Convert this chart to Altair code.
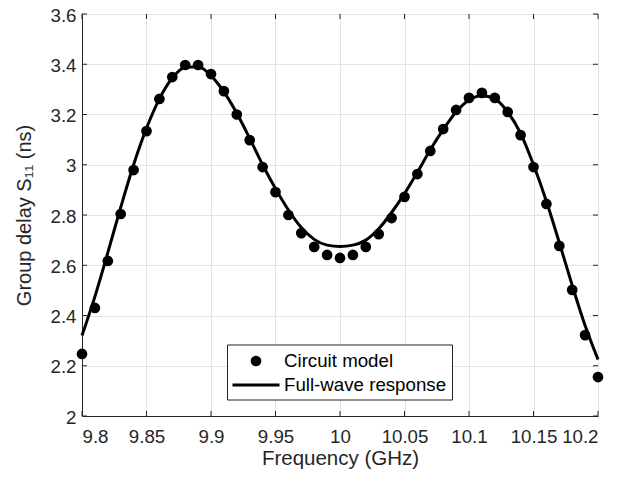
import altair as alt
import pandas as pd

freq = [9.80, 9.81, 9.82, 9.83, 9.84, 9.85, 9.86, 9.87, 9.88, 9.89,
        9.90, 9.91, 9.92, 9.93, 9.94, 9.95, 9.96, 9.97, 9.98, 9.99,
        10.00, 10.01, 10.02, 10.03, 10.04, 10.05, 10.06, 10.07, 10.08, 10.09,
        10.10, 10.11, 10.12, 10.13, 10.14, 10.15, 10.16, 10.17, 10.18, 10.19,
        10.20]

circuit_model = [2.247, 2.430, 2.617, 2.804, 2.979, 3.134, 3.262, 3.349, 3.397, 3.397,
                 3.361, 3.293, 3.200, 3.098, 2.991, 2.891, 2.800, 2.728, 2.673, 2.641,
                 2.629, 2.641, 2.673, 2.724, 2.788, 2.872, 2.963, 3.055, 3.142, 3.218,
                 3.266, 3.286, 3.266, 3.210, 3.118, 2.991, 2.844, 2.677, 2.502, 2.322,
                 2.155]

full_wave = [2.320, 2.475, 2.650, 2.830, 3.000, 3.145, 3.262, 3.345, 3.388, 3.390,
             3.355, 3.290, 3.205, 3.105, 3.000, 2.905, 2.820, 2.750, 2.703, 2.680,
             2.675, 2.680, 2.700, 2.745, 2.810, 2.885, 2.970, 3.060, 3.140, 3.210,
             3.258, 3.275, 3.262, 3.210, 3.125, 3.000, 2.855, 2.690, 2.520, 2.360,
             2.225]

x_ticks = [9.8, 9.85, 9.9, 9.95, 10.0, 10.05, 10.1, 10.15, 10.2]
y_ticks = [2.0, 2.2, 2.4, 2.6, 2.8, 3.0, 3.2, 3.4, 3.6]
legend_labels = ["Circuit model", "Full-wave response"]

W, H = 516, 402
DARK = "#262626"
FONT = "Liberation Sans"

df = pd.DataFrame({"f": freq, "circuit": circuit_model, "full": full_wave})

xscale = alt.Scale(domain=[9.8, 10.2], nice=False, zero=False)
yscale = alt.Scale(domain=[2.0, 3.6], nice=False, zero=False)

x_axis = alt.Axis(values=x_ticks, format="~g", title="Frequency (GHz)", tickSize=0,
                  labelPadding=11, titlePadding=3, grid=True, titleFontSize=20.5)
y_axis = alt.Axis(values=y_ticks, format="~g", title="Group delay S₁₁ (ns)", tickSize=0,
                  labelPadding=6, labelOffset=1, titlePadding=16, grid=True,
                  titleFontSize=20)

base = alt.Chart(df)

line = base.mark_line(color="black", strokeWidth=3, interpolate="monotone").encode(
    x=alt.X("f:Q", scale=xscale, axis=x_axis),
    y=alt.Y("full:Q", scale=yscale, axis=y_axis),
)

points = base.mark_circle(color="black", size=115, opacity=1).encode(
    x=alt.X("f:Q", scale=xscale),
    y=alt.Y("circuit:Q", scale=yscale),
)

# inward ticks (MATLAB style) on all four sides
xt = pd.DataFrame({"t": x_ticks})
yt = pd.DataFrame({"t": y_ticks})
tick_style = dict(color=DARK, strokeWidth=1)
xt_bottom = alt.Chart(xt).mark_rule(**tick_style).encode(
    x=alt.X("t:Q", scale=xscale), y=alt.value(H), y2=alt.value(H - 5))
xt_top = alt.Chart(xt).mark_rule(**tick_style).encode(
    x=alt.X("t:Q", scale=xscale), y=alt.value(0), y2=alt.value(5))
yt_left = alt.Chart(yt).mark_rule(**tick_style).encode(
    y=alt.Y("t:Q", scale=yscale), x=alt.value(0), x2=alt.value(5))
yt_right = alt.Chart(yt).mark_rule(**tick_style).encode(
    y=alt.Y("t:Q", scale=yscale), x=alt.value(W), x2=alt.value(W - 5))

# legend box
one = pd.DataFrame({"k": [0]})
leg_box = alt.Chart(one).mark_rect(fill="white", stroke=DARK, strokeWidth=1).encode(
    x=alt.value(145.5), x2=alt.value(370.5), y=alt.value(331), y2=alt.value(386))
leg_dot = alt.Chart(one).mark_circle(color="black", size=115, opacity=1).encode(
    x=alt.value(174), y=alt.value(347))
leg_line = alt.Chart(one).mark_rule(color="black", strokeWidth=3).encode(
    x=alt.value(150.5), x2=alt.value(197.5), y=alt.value(371))
leg_text1 = alt.Chart(pd.DataFrame({"label": [legend_labels[0]]})).mark_text(
    align="left", baseline="middle", font=FONT, fontSize=18.7, color="black").encode(
    x=alt.value(202), y=alt.value(347), text="label:N")
leg_text2 = alt.Chart(pd.DataFrame({"label": [legend_labels[1]]})).mark_text(
    align="left", baseline="middle", font=FONT, fontSize=18.7, color="black").encode(
    x=alt.value(202), y=alt.value(371), text="label:N")

chart = alt.layer(
    line, points, xt_bottom, xt_top, yt_left, yt_right,
    leg_box, leg_dot, leg_line, leg_text1, leg_text2
).properties(
    width=W, height=H,
    autosize=alt.AutoSizeParams(type="none"),
    padding={"left": 74, "top": 6, "right": 30, "bottom": 55},
    background="white",
).configure_view(
    stroke=DARK, strokeWidth=1
).configure_axis(
    labelFont=FONT, titleFont=FONT, labelFontSize=18.7,
    labelColor=DARK, titleColor=DARK, titleFontWeight="normal",
    domainColor=DARK, gridColor="#e3e3e3", gridWidth=1,
)

chart.save("out.html", embed_options={"renderer": "svg", "actions": False})
